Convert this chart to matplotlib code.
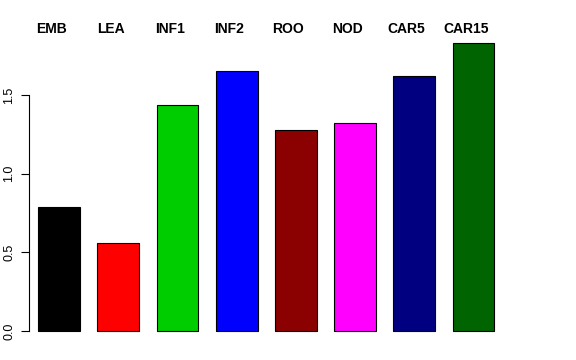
import matplotlib
matplotlib.use("Agg")
import matplotlib.pyplot as plt

groups = ["EMB", "LEA", "INF1", "INF2", "ROO", "NOD", "CAR5", "CAR15"]
values = [0.79, 0.557, 1.437, 1.651, 1.278, 1.322, 1.621, 1.831]
colors = ["#000000", "#FF0000", "#00CD00", "#0000FF",
          "#8B0000", "#FF00FF", "#000080", "#006400"]

plt.rcParams['font.family'] = ['Liberation Sans', 'DejaVu Sans']

fig = plt.figure(figsize=(5.76, 3.6), dpi=100)
# axes placed in pixel terms: left 29.3px, bottom 345px, top 30px
W, H = 576.0, 360.0
ax = fig.add_axes([29.3 / W, (H - 345) / H, (503 - 29.3) / W, (345 - 30) / H])

x = list(range(len(groups)))
ax.bar(x, values, width=0.704, color=colors, edgecolor="black", linewidth=0.8)

ax.set_xlim(-0.504, 7.5)
ax.set_ylim(-14 / 157.3, 301 / 157.3)

# group names above the plot
for i, g in enumerate(groups):
    ax.text(i - 0.13, 1.918, g, ha="center", va="center", fontsize=10,
            fontweight="bold", clip_on=False)

for s in ["top", "right", "bottom"]:
    ax.spines[s].set_visible(False)
ax.spines["left"].set_bounds(0, 1.5)
ax.spines["left"].set_linewidth(0.8)
ax.set_xticks([])
ax.set_yticks([0.0, 0.5, 1.0, 1.5])
ax.set_yticklabels(["0.0", "0.5", "1.0", "1.5"], rotation=90, va="center")
ax.tick_params(axis="y", length=6, width=0.8, pad=4, labelsize=9)

fig.savefig("out.png", dpi=100)
